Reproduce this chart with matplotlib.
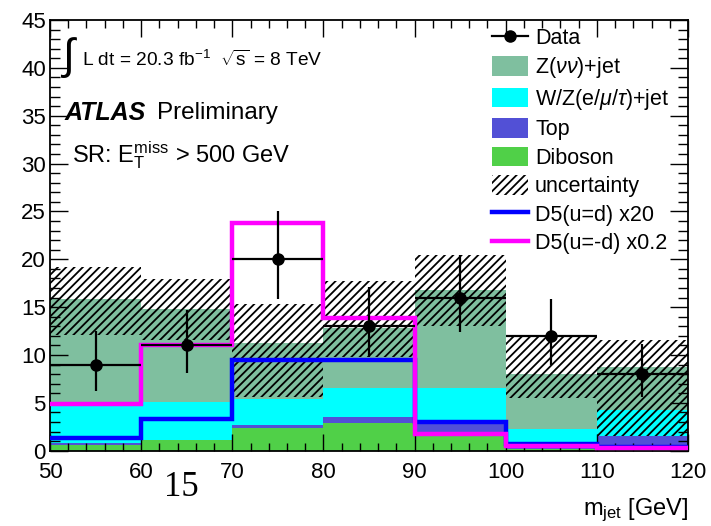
import numpy as np
import matplotlib
matplotlib.use("Agg")
import matplotlib.pyplot as plt
from matplotlib.patches import Patch
from matplotlib.lines import Line2D

plt.rcParams['font.family'] = ['Liberation Sans', 'DejaVu Sans']
plt.rcParams['mathtext.fontset'] = 'custom'
plt.rcParams['mathtext.rm'] = 'Liberation Sans'
plt.rcParams['mathtext.it'] = 'Liberation Sans:italic'
plt.rcParams['mathtext.bf'] = 'Liberation Sans:bold'
plt.rcParams['hatch.linewidth'] = 1.3

# ---- data ----
edges = [50, 60, 70, 80, 90, 100, 110, 120]
centers = [55, 65, 75, 85, 95, 105, 115]
data = [9, 11, 20, 13, 16, 12, 8]
data_err_up = [3.5, 3.7, 5.0, 4.1, 4.4, 3.9, 3.2]
data_err_dn = [2.8, 2.9, 4.1, 3.2, 3.6, 3.0, 2.4]

diboson = [0.55, 1.1, 2.4, 2.85, 1.8, 0.15, 0.1]
top = [0.3, 0.05, 0.25, 0.7, 1.0, 0.2, 1.4]
wz_lep = [3.8, 3.95, 2.75, 3.05, 3.8, 1.9, 2.75]
z_nunu = [11.15, 9.7, 5.9, 6.2, 10.2, 5.75, 4.45]

unc_low = [12.1, 11.6, 5.6, 9.8, 13.0, 5.5, 1.5]
unc_high = [19.2, 17.9, 15.3, 17.7, 20.4, 12.1, 11.6]

d5_ud = [1.3, 3.3, 9.45, 9.5, 3.0, 0.75, 0.4]
d5_umd = [4.9, 11.0, 23.8, 13.9, 1.75, 0.5, 0.25]

labels = ['Data', r'Z($\nu\nu$)+jet', r'W/Z(e/$\mu$/$\tau$)+jet', 'Top', 'Diboson',
          'uncertainty', 'D5(u=d) x20', 'D5(u=-d) x0.2']

c_z = '#7fbf9f'
c_wz = '#00ffff'
c_top = '#5250d6'
c_dib = '#50d048'

W, H = 711, 526
fig = plt.figure(figsize=(W/100, H/100), dpi=100)
ax = fig.add_axes([50/W, 1-450.7/H, (688-50)/W, (450.7-20)/H])

e = np.array(edges, float)
cum0 = np.zeros(len(data))
comps = [(diboson, c_dib), (top, c_top), (wz_lep, c_wz), (z_nunu, c_z)]
for vals, col in comps:
    cum1 = cum0 + np.array(vals)
    ax.stairs(cum1, e, baseline=cum0, fill=True, color=col, lw=0, zorder=1)
    cum0 = cum1

ax.stairs(unc_high, e, baseline=unc_low, fill=True, facecolor='none',
          edgecolor='black', hatch='////', lw=0, zorder=2)

ax.stairs(d5_ud, e, baseline=None, color='#0000ff', lw=3.2, zorder=3)
ax.stairs(d5_umd, e, baseline=None, color='#ff00ff', lw=3.2, zorder=3)

ax.errorbar(centers, data, xerr=5, yerr=[data_err_dn, data_err_up], fmt='o',
            color='black', ms=8, lw=1.6, capsize=0, zorder=4)

ax.set_xlim(50, 120)
ax.set_ylim(0, 45)
ax.set_xticks(np.arange(50, 121, 10))
ax.set_xticks(np.arange(50, 121, 2), minor=True)
ax.set_yticks(np.arange(0, 46, 5))
ax.set_yticks(np.arange(0, 46, 1), minor=True)
ax.tick_params(which='both', direction='in', top=True, right=True, width=1.0,
               labelsize=16, colors='black')
ax.tick_params(axis='x', which='major', length=12, pad=8)
ax.tick_params(axis='x', which='minor', length=6)
ax.tick_params(axis='y', which='major', length=13, pad=3)
ax.tick_params(axis='y', which='minor', length=7)
for s in ax.spines.values():
    s.set_linewidth(1.3)

# texts
fig.text(60/W, 1-57/H, r'$\int$', fontsize=31, va='center', ha='left')
fig.text(82/W, 1-60/H, r'L dt = 20.3 fb$^{\mathregular{-1}}$  $\sqrt{\mathregular{s}}$ = 8 TeV',
         fontsize=13.8, va='center', ha='left')
fig.text(65/W, 1-113/H, 'ATLAS', fontsize=18, fontweight='bold', style='italic',
         va='center', ha='left')
fig.text(157/W, 1-113/H, 'Preliminary', fontsize=17.5, va='center', ha='left')
fig.text(72/W, 1-155/H, r'SR: E$_{\mathregular{T}}^{\mathregular{miss}}$ > 500 GeV',
         fontsize=17, va='center', ha='left')

fig.text(688/W, 1-510/H, r'm$_{\mathregular{jet}}$ [GeV]', fontsize=17, ha='right', va='center')
fig.text(164/W, 1-487/H, '15', fontsize=25, family='Liberation Serif', ha='left', va='center')

handles = [
    Line2D([0], [0], color='black', marker='o', ms=8, lw=1.6),
    Patch(facecolor=c_z, lw=0),
    Patch(facecolor=c_wz, lw=0),
    Patch(facecolor=c_top, lw=0),
    Patch(facecolor=c_dib, lw=0),
    Patch(facecolor='none', edgecolor='black', hatch='////', lw=0),
    Line2D([0], [0], color='#0000ff', lw=3.2),
    Line2D([0], [0], color='#ff00ff', lw=3.2),
]
leg = ax.legend(handles, labels, loc='upper left', bbox_to_anchor=(492/W, 1-27/H),
                bbox_transform=fig.transFigure, frameon=False, fontsize=15.5,
                handlelength=1.65, handleheight=1.0, handletextpad=0.35,
                labelspacing=0.3, borderpad=0, borderaxespad=0)

fig.savefig('out.png', dpi=100)
